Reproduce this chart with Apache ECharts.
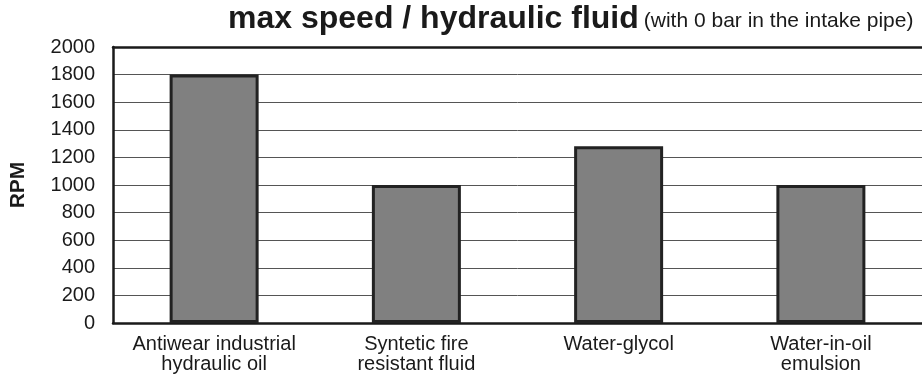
<!DOCTYPE html>
<html>
<head>
<meta charset="utf-8">
<script src="https://cdn.jsdelivr.net/npm/echarts@6/dist/echarts.min.js"></script>
<style>
  html, body { margin: 0; padding: 0; background: #fff; }
  #chart { width: 922px; height: 380px; }
</style>
</head>
<body>
<div id="chart"></div>
<script>
// Fluids and the maximum pump speed reached with each
const categories = [
  'Antiwear industrial\nhydraulic oil',
  'Syntetic fire\nresistant fluid',
  'Water-glycol',
  'Water-in-oil\nemulsion'
];
const maxSpeedRpm = [1800, 1000, 1280, 1000];
const yTicks = { min: 0, max: 2000, step: 200 };

const FONT = "'Liberation Sans', Arial, Helvetica, sans-serif";

const chart = echarts.init(document.getElementById('chart'), null, { renderer: 'canvas' });

chart.setOption({
  animation: false,
  backgroundColor: '#ffffff',
  title: {
    left: 223,
    top: -2,
    text: '{a|max speed / hydraulic fluid} {b|(with 0 bar in the intake pipe)}',
    textStyle: {
      rich: {
        a: { fontFamily: FONT, fontWeight: 'bold', fontSize: 32, color: '#1a1a1a' },
        b: { fontFamily: FONT, fontWeight: 'normal', fontSize: 21, color: '#1a1a1a', verticalAlign: 'bottom', padding: [0, 0, 3, 0] }
      }
    }
  },
  grid: { left: 111, top: 47, width: 812, height: 276, containLabel: false },
  xAxis: [
    {
      type: 'category',
      data: categories,
      position: 'bottom',
      axisLine: { show: true, lineStyle: { color: '#1a1a1a', width: 2.5 } },
      axisTick: { show: false },
      axisLabel: {
        fontFamily: FONT,
        fontSize: 20,
        lineHeight: 20,
        color: '#1a1a1a',
        margin: 11,
        interval: 0
      }
    },
    {
      // plain top border of the plot frame
      type: 'category',
      data: categories,
      position: 'top',
      axisLine: { show: true, lineStyle: { color: '#1a1a1a', width: 2.5 } },
      axisTick: { show: false },
      axisLabel: { show: false }
    }
  ],
  yAxis: {
    type: 'value',
    min: yTicks.min,
    max: yTicks.max,
    interval: yTicks.step,
    name: 'RPM',
    nameLocation: 'middle',
    nameGap: 84,
    nameRotate: 90,
    nameTextStyle: { fontFamily: FONT, fontWeight: 'bold', fontSize: 21, color: '#1a1a1a' },
    axisLine: { show: true, lineStyle: { color: '#1a1a1a', width: 2.5 } },
    axisTick: { show: false },
    axisLabel: {
      fontFamily: FONT,
      fontSize: 20,
      color: '#1a1a1a',
      margin: 18,
      formatter: (v) => String(v)
    },
    splitLine: { show: true, lineStyle: { color: '#555555', width: 1 } }
  },
  series: [
    {
      type: 'bar',
      data: maxSpeedRpm,
      barWidth: 89,
      itemStyle: { color: '#808080', borderColor: '#222222', borderWidth: 3 }
    }
  ]
});
</script>
</body>
</html>
